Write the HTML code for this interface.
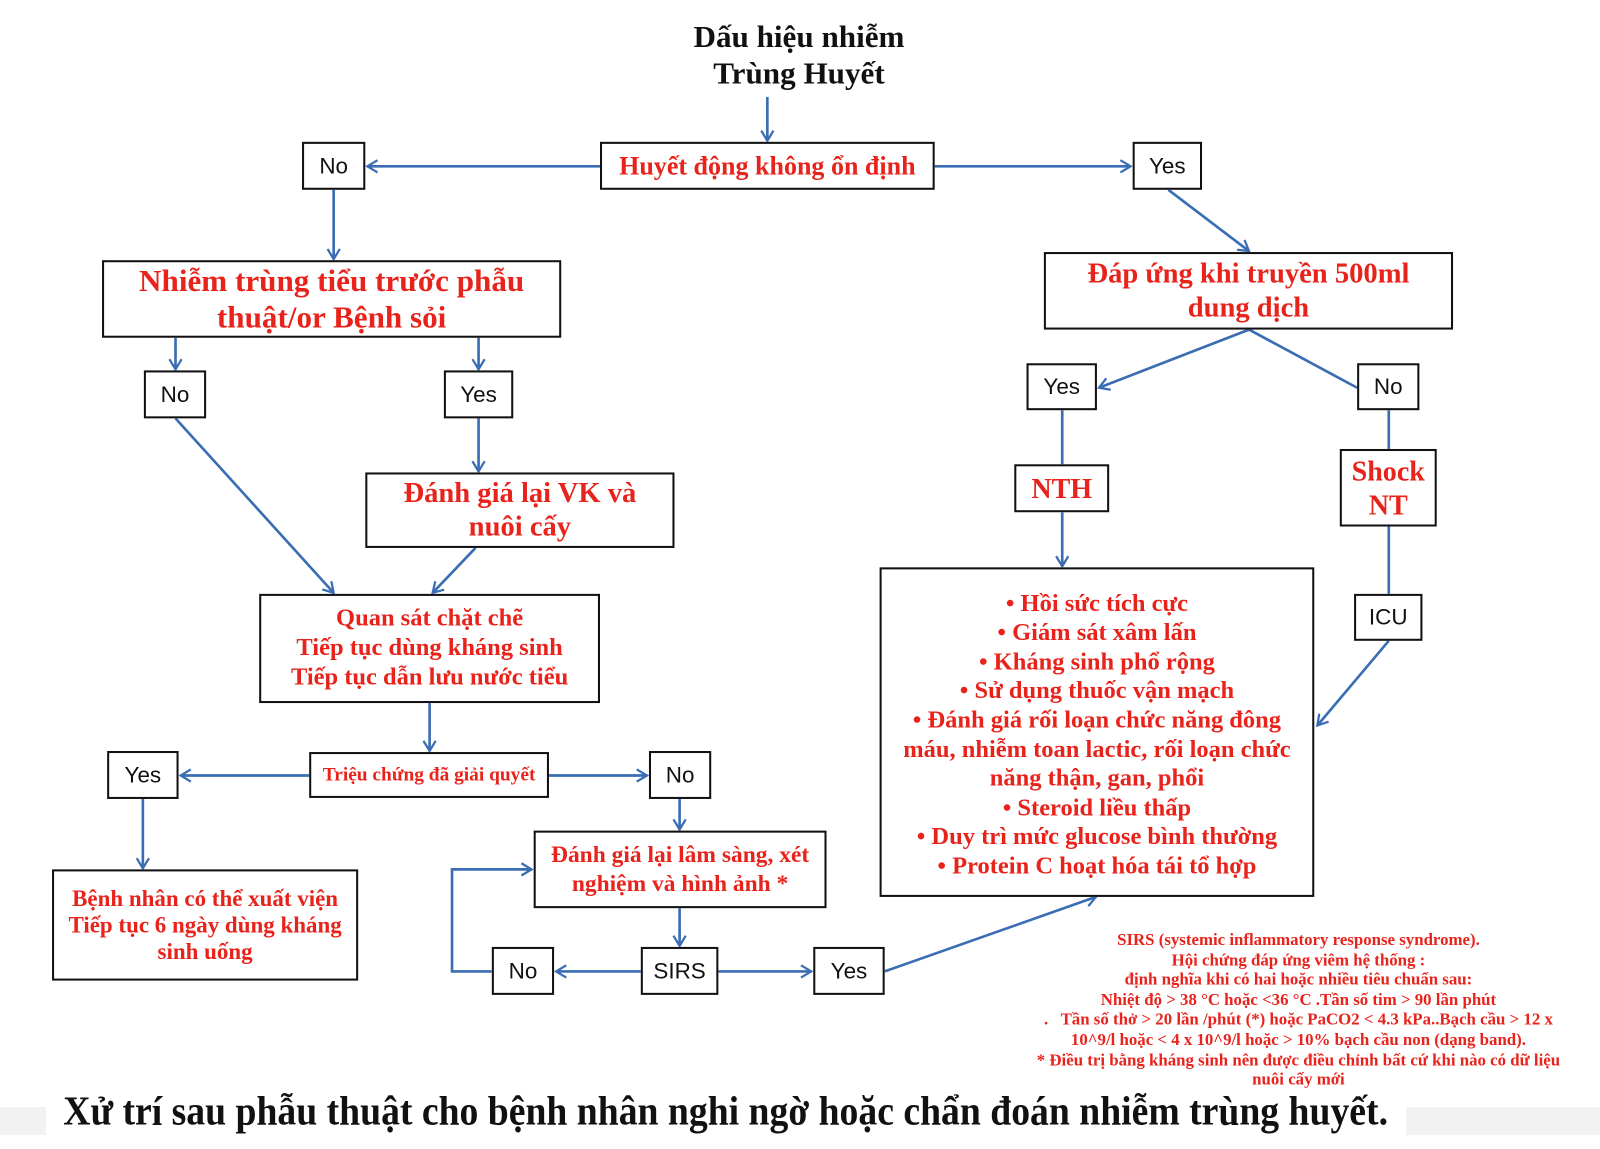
<!DOCTYPE html>
<html><head><meta charset="utf-8"><style>
body{margin:0;width:1600px;height:1135px;background:#fff;position:relative;overflow:hidden}
#w{position:absolute;left:0;top:0;width:1568px;height:1112px;transform:scale(1.0204);transform-origin:0 0}
.b{position:absolute;border:2px solid #111;box-sizing:border-box;display:flex;align-items:center;justify-content:center;text-align:center;background:#fff}
.r{color:#e8231c;font-family:"Liberation Serif","Noto Serif CJK SC",serif;font-weight:bold}
.k{color:#111;font-family:"Liberation Sans",sans-serif;font-size:22px}
.t{position:absolute;text-align:center}
svg{position:absolute;left:0;top:0}
</style></head><body>
<div style="position:absolute;left:0;top:1107px;width:1600px;height:28px;background:#f2f2f2"></div>
<div id="w">
<svg width="1568" height="1112">
<defs><marker id="a" markerWidth="14" markerHeight="14" refX="12" refY="7" orient="auto" markerUnits="userSpaceOnUse"><polyline points="2,1 12,7 2,13" fill="none" stroke="#3a6db4" stroke-width="2.2"/></marker></defs>
<g stroke="#3a6db4" stroke-width="2.6" fill="none">
<line x1="752" y1="95" x2="752" y2="138" marker-end="url(#a)"/>
<line x1="588" y1="163" x2="360" y2="163" marker-end="url(#a)"/>
<line x1="916" y1="163" x2="1108" y2="163" marker-end="url(#a)"/>
<line x1="1145" y1="186" x2="1224" y2="246" marker-end="url(#a)"/>
<line x1="327" y1="186" x2="327" y2="254" marker-end="url(#a)"/>
<line x1="172" y1="331" x2="172" y2="362" marker-end="url(#a)"/>
<line x1="469" y1="331" x2="469" y2="362" marker-end="url(#a)"/>
<line x1="469" y1="410" x2="469" y2="462" marker-end="url(#a)"/>
<line x1="172" y1="410" x2="327" y2="581" marker-end="url(#a)"/>
<line x1="466" y1="537" x2="424" y2="581" marker-end="url(#a)"/>
<line x1="1224" y1="323" x2="1077" y2="380" marker-end="url(#a)"/>
<line x1="1224" y1="323" x2="1330" y2="380"/>
<line x1="1041" y1="402" x2="1041" y2="455"/>
<line x1="1041" y1="502" x2="1041" y2="555" marker-end="url(#a)"/>
<line x1="1361" y1="402" x2="1361" y2="440"/>
<line x1="1361" y1="516" x2="1361" y2="582"/>
<line x1="1361" y1="628" x2="1291" y2="711" marker-end="url(#a)"/>
<line x1="421" y1="689" x2="421" y2="736" marker-end="url(#a)"/>
<line x1="303" y1="760" x2="177" y2="760" marker-end="url(#a)"/>
<line x1="538" y1="760" x2="634" y2="760" marker-end="url(#a)"/>
<line x1="140" y1="783" x2="140" y2="851" marker-end="url(#a)"/>
<line x1="666" y1="783" x2="666" y2="813" marker-end="url(#a)"/>
<line x1="666" y1="890" x2="666" y2="927" marker-end="url(#a)"/>
<line x1="628" y1="952" x2="545" y2="952" marker-end="url(#a)"/>
<line x1="704" y1="952" x2="795" y2="952" marker-end="url(#a)"/>
<polyline points="482,952 443,952 443,852 521,852" marker-end="url(#a)"/>
<line x1="867" y1="952" x2="1074" y2="879" marker-end="url(#a)"/>
</g></svg>
<div class="t" style="left:583px;top:18px;width:400px;font:bold 30.5px/36px 'Liberation Serif',serif;color:#111">Dấu hiệu nhiễm<br>Trùng Huyết</div>
<div class="b r" style="left:588px;top:139px;width:328px;height:47px;font-size:25.5px">Huyết động không ổn định</div>
<div class="b k" style="left:296px;top:139px;width:62px;height:47px">No</div>
<div class="b k" style="left:1110px;top:139px;width:68px;height:47px">Yes</div>
<div class="b r" style="left:100px;top:255px;width:450px;height:76px;font-size:30.5px;line-height:36px">Nhiễm trùng tiểu trước phẫu<br>thuật/or Bệnh sỏi</div>
<div class="b k" style="left:141px;top:363px;width:61px;height:47px">No</div>
<div class="b k" style="left:435px;top:363px;width:68px;height:47px">Yes</div>
<div class="b r" style="left:358px;top:463px;width:303px;height:74px;font-size:28px;line-height:33px">Đánh giá lại VK và<br>nuôi cấy</div>
<div class="b r" style="left:254px;top:582px;width:334px;height:107px;font-size:24px;line-height:29px">Quan sát chặt chẽ<br>Tiếp tục dùng kháng sinh<br>Tiếp tục dẫn lưu nước tiểu</div>
<div class="b r" style="left:303px;top:737px;width:235px;height:45px;font-size:19px">Triệu chứng đã giải quyết</div>
<div class="b k" style="left:105px;top:736px;width:70px;height:47px">Yes</div>
<div class="b k" style="left:636px;top:736px;width:61px;height:47px">No</div>
<div class="b r" style="left:51px;top:852px;width:300px;height:109px;font-size:22.5px;line-height:26px">Bệnh nhân có thể xuất viện<br>Tiếp tục 6 ngày dùng kháng<br>sinh uống</div>
<div class="b r" style="left:523px;top:814px;width:287px;height:76px;font-size:23px;line-height:28px">Đánh giá lại lâm sàng, xét<br>nghiệm và hình ảnh *</div>
<div class="b k" style="left:482px;top:928px;width:61px;height:47px">No</div>
<div class="b k" style="left:628px;top:928px;width:76px;height:47px">SIRS</div>
<div class="b k" style="left:797px;top:928px;width:70px;height:47px">Yes</div>
<div class="b r" style="left:1023px;top:247px;width:401px;height:76px;font-size:28px;line-height:33px">Đáp ứng khi truyền 500ml<br>dung dịch</div>
<div class="b k" style="left:1006px;top:356px;width:69px;height:46px">Yes</div>
<div class="b k" style="left:1330px;top:356px;width:61px;height:46px">No</div>
<div class="b r" style="left:994px;top:455px;width:93px;height:47px;font-size:27.5px">NTH</div>
<div class="b r" style="left:1313px;top:440px;width:95px;height:76px;font-size:27.5px;line-height:33px">Shock<br>NT</div>
<div class="b k" style="left:1327px;top:582px;width:67px;height:46px">ICU</div>
<div class="b r" style="left:862px;top:556px;width:426px;height:323px;font-size:24px;line-height:28.6px;padding:6px 8px 0">• Hồi sức tích cực<br>• Giám sát xâm lấn<br>• Kháng sinh phổ rộng<br>• Sử dụng thuốc vận mạch<br>• Đánh giá rối loạn chức năng đông máu, nhiễm toan lactic, rối loạn chức năng thận, gan, phổi<br>• Steroid liều thấp<br>• Duy trì mức glucose bình thường<br>• Protein C hoạt hóa tái tổ hợp</div>
<div class="t r" style="left:1000px;top:911px;width:545px;font-size:16.5px;line-height:19.6px">SIRS (systemic inflammatory response syndrome).<br>Hội chứng đáp ứng viêm hệ thống :<br>định nghĩa khi có hai hoặc nhiều tiêu chuẩn sau:<br>Nhiệt độ &gt; 38 °C hoặc &lt;36 °C .Tần số tim &gt; 90 lần phút<br>.&nbsp;&nbsp; Tần số thở &gt; 20 lần /phút (*) hoặc PaCO2 &lt; 4.3 kPa..Bạch cầu &gt; 12 x 10^9/l hoặc &lt; 4 x 10^9/l hoặc &gt; 10% bạch cầu non (dạng band).<br>* Điều trị bằng kháng sinh nên được điều chỉnh bất cứ khi nào có dữ liệu nuôi cấy mới</div>
<div style="position:absolute;left:45px;top:1066px;width:1333px;height:60px;background:#fff"></div>
<div class="t" style="left:62px;top:1066px;width:1400px;font:bold 40px/46px 'Liberation Serif',serif;color:#111;text-align:left;transform:scaleX(0.923);transform-origin:0 0;white-space:nowrap">Xử trí sau phẫu thuật cho bệnh nhân nghi ngờ hoặc chẩn đoán nhiễm trùng huyết.</div>
</div>
</body></html>
